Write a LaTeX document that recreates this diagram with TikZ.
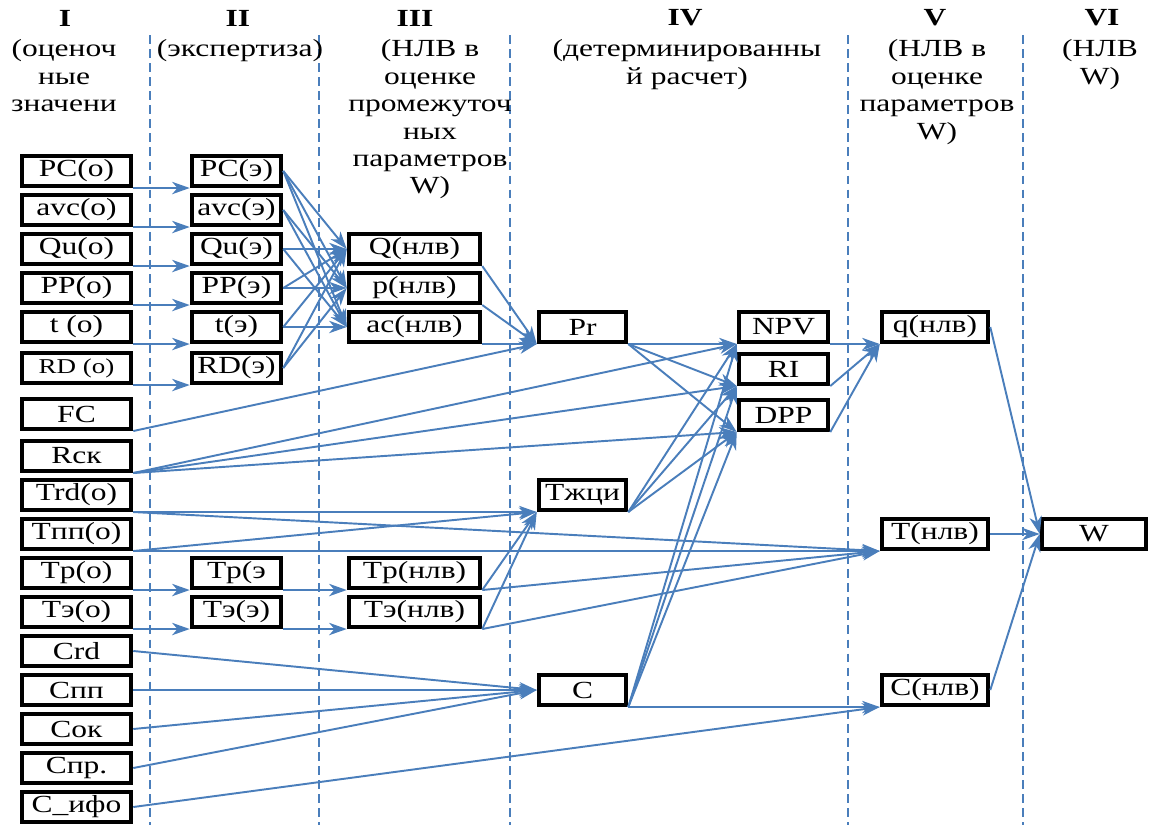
\documentclass[tikz,border=0pt]{standalone}
\usepackage{fontspec}
\setmainfont[FakeStretch=1.28]{Liberation Serif}
\usetikzlibrary{arrows.meta}
\definecolor{lineblue}{RGB}{74,126,187}

\tikzstyle{boxNode} = [rectangle, draw=black, fill=white, line width=2.3pt, minimum height=0.6cm, inner sep=1pt, text centered, font=\fontsize{14}{16}\selectfont]
\tikzstyle{oNode} = [boxNode, minimum width=2.19cm]
\tikzstyle{eNode} = [boxNode, minimum width=1.79cm]
\tikzstyle{nNode} = [boxNode, minimum width=2.63cm]
\tikzstyle{dNode} = [boxNode, minimum width=1.75cm]
\tikzstyle{rNode} = [boxNode, minimum width=1.79cm]
\tikzstyle{vNode} = [boxNode, minimum width=2.13cm]
\tikzstyle{wNode} = [boxNode, minimum width=2.09cm]
\tikzstyle{numNode} = [inner sep=0pt, font=\fontsize{14}{16}\selectfont\bfseries]
\tikzstyle{headNode} = [align=center, anchor=north, inner sep=0pt, font=\fontsize{14}{15.6}\selectfont]
\tikzstyle{arrow} = [draw=lineblue, line width=1.1pt, -{Stealth[length=10pt,width=7pt,inset=3pt]}]
\tikzstyle{sepLine} = [draw=lineblue, line width=1.6pt, dash pattern=on 5pt off 3pt]

\begin{document}
\begin{tikzpicture}[node distance=0.78cm]
    \useasboundingbox (0,0) rectangle (23.02,-16.5);

    % column borders
    \foreach \x in {3.0,6.38,10.2,16.96,20.46}
        \draw [sepLine] (\x,-0.7) -- (\x,-16.5);

    % headers
    \node (num1)[numNode] at (1.3,-0.36) {I};
    \node (num2)[numNode] at (4.76,-0.36) {II};
    \node (num3)[numNode] at (8.3,-0.36) {III};
    \node (num4)[numNode] at (13.7,-0.36) {IV};
    \node (num5)[numNode] at (18.7,-0.36) {V};
    \node (num6)[numNode] at (22.04,-0.36) {VI};
    \node (head1)[headNode] at (1.28,-0.79) {(оценоч\\ные\\значени};
    \node (head2)[headNode] at (4.8,-0.79) {(экспертиза)};
    \node (head3)[headNode] at (8.6,-0.79) {(НЛВ в\\оценке\\промежуточ\\ных\\параметров\\W)};
    \node (head4)[headNode] at (13.74,-0.79) {(детерминированны\\й расчет)};
    \node (head5)[headNode] at (18.74,-0.79) {(НЛВ в\\оценке\\параметров\\W)};
    \node (head6)[headNode] at (22.0,-0.79) {(НЛВ\\W)};

    % I
    \node (PCo)[oNode] at (1.53,-3.42) {PC(о)};
    \node (avco)[oNode, below of=PCo] {avc(о)};
    \node (Quo)[oNode, below of=avco] {Qu(о)};
    \node (PPo)[oNode, below of=Quo] {PP(о)};
    \node (tOc)[oNode, below of=PPo] {t (о)};
    \node (RDo)[oNode, below of=tOc, yshift=-0.04cm, font=\fontsize{12}{14}\selectfont] {RD (о)};
    \node (FC)[oNode, below of=RDo, yshift=-0.14cm] {FC};
    \node (Rsk)[oNode, below of=FC, yshift=-0.06cm] {Rск};
    \node (Trdo)[oNode, below of=Rsk] {Trd(о)};
    \node (Tppo)[oNode, below of=Trdo] {Tпп(о)};
    \node (Tpo)[oNode, below of=Tppo] {Tр(о)};
    \node (Teo)[oNode, below of=Tpo] {Tэ(о)};
    \node (Crd)[oNode, below of=Teo] {Crd};
    \node (Cpp)[oNode, below of=Crd] {Спп};
    \node (Cok)[oNode, below of=Cpp] {Сок};
    \node (Cpr)[oNode, below of=Cok] {Спр.};
    \node (Cifo)[oNode, below of=Cpr] {С\_ифо};

    % II
    \node (PCe)[eNode, right of=PCo, xshift=2.42cm] {PC(э)};
    \node (avce)[eNode, right of=avco, xshift=2.42cm] {avc(э)};
    \node (Que)[eNode, right of=Quo, xshift=2.42cm] {Qu(э)};
    \node (PPe)[eNode, right of=PPo, xshift=2.42cm] {PP(э)};
    \node (tEx)[eNode, right of=tOc, xshift=2.42cm] {t(э)};
    \node (RDe)[eNode, right of=RDo, xshift=2.42cm] {RD(э)};
    \node (Tpe)[eNode, right of=Tpo, xshift=2.42cm] {Tр(э};
    \node (Tee)[eNode, right of=Teo, xshift=2.42cm] {Tэ(э)};

    % III
    \node (Qn)[nNode, right of=Que, xshift=2.78cm] {Q(нлв)};
    \node (pn)[nNode, right of=PPe, xshift=2.78cm] {p(нлв)};
    \node (acn)[nNode, right of=tEx, xshift=2.78cm] {ac(нлв)};
    \node (Tpn)[nNode, right of=Tpe, xshift=2.78cm] {Tр(нлв)};
    \node (Ten)[nNode, right of=Tee, xshift=2.78cm] {Tэ(нлв)};

    % IV
    \node (Pr)[dNode, right of=acn, xshift=2.58cm] {Pr};
    \node (Tzhci)[dNode, right of=Trdo, xshift=9.34cm] {Tжци};
    \node (Cd)[dNode, right of=Cpp, xshift=9.34cm] {С};
    \node (NPV)[rNode, right of=Pr, xshift=3.24cm] {NPV};
    \node (RI)[rNode, below of=NPV, yshift=-0.06cm] {RI};
    \node (DPP)[rNode, below of=RI, yshift=-0.14cm] {DPP};

    % V, VI
    \node (qn)[vNode, right of=NPV, xshift=2.25cm] {q(нлв)};
    \node (Tn)[vNode, right of=Tppo, xshift=16.39cm] {T(нлв)};
    \node (Cn)[vNode, right of=Cd, xshift=6.27cm] {С(нлв)};
    \node (W)[wNode, right of=Tn, xshift=2.4cm] {W};

    % I -> II -> III
    \draw [arrow] (PCo.south east) -- (PCe.south west);
    \draw [arrow] (avco.south east) -- (avce.south west);
    \draw [arrow] (Quo.south east) -- (Que.south west);
    \draw [arrow] (PPo.south east) -- (PPe.south west);
    \draw [arrow] (tOc.south east) -- (tEx.south west);
    \draw [arrow] (RDo.south east) -- (RDe.south west);
    \draw [arrow] (Tpo.south east) -- (Tpe.south west);
    \draw [arrow] (Teo.south east) -- (Tee.south west);
    \draw [arrow] (Tpe.south east) -- (Tpn.south west);
    \draw [arrow] (Tee.south east) -- (Ten.south west);

    \draw [arrow] (PCe.east) -- (Qn.west);
    \draw [arrow] (PCe.east) -- (pn.west);
    \draw [arrow] (PCe.east) -- (acn.west);
    \draw [arrow] (avce.east) -- (pn.west);
    \draw [arrow] (avce.east) -- (acn.west);
    \draw [arrow] (Que.east) -- (Qn.west);
    \draw [arrow] (Que.east) -- (acn.west);
    \draw [arrow] (PPe.east) -- (pn.west);
    \draw [arrow] (PPe.east) -- (Qn.west);
    \draw [arrow] (tEx.east) -- (acn.west);
    \draw [arrow] (tEx.east) -- (Qn.west);
    \draw [arrow] (RDe.east) -- (Qn.west);
    \draw [arrow] (RDe.east) -- (pn.west);

    % -> IV
    \draw [arrow] (Qn.south east) -- (Pr.south west);
    \draw [arrow] (pn.south east) -- (Pr.south west);
    \draw [arrow] (acn.south east) -- (Pr.south west);
    \draw [arrow] (FC.south east) -- (Pr.south west);
    \draw [arrow] (Trdo.south east) -- (Tzhci.south west);
    \draw [arrow] (Tppo.south east) -- (Tzhci.south west);
    \draw [arrow] (Tpn.south east) -- (Tzhci.south west);
    \draw [arrow] (Ten.south east) -- (Tzhci.south west);
    \draw [arrow] (Crd.east) -- (Cd.west);
    \draw [arrow] (Cpp.east) -- (Cd.west);
    \draw [arrow] (Cok.east) -- (Cd.west);
    \draw [arrow] (Cpr.east) -- (Cd.west);

    \draw [arrow] (Pr.south east) -- (NPV.south west);
    \draw [arrow] (Pr.south east) -- (RI.south west);
    \draw [arrow] (Pr.south east) -- (DPP.south west);
    \draw [arrow] (Rsk.south east) -- (NPV.south west);
    \draw [arrow] (Rsk.south east) -- (RI.south west);
    \draw [arrow] (Rsk.south east) -- (DPP.south west);
    \draw [arrow] (Tzhci.south east) -- (NPV.south west);
    \draw [arrow] (Tzhci.south east) -- (RI.south west);
    \draw [arrow] (Tzhci.south east) -- (DPP.south west);
    \draw [arrow] (Cd.south east) -- (NPV.south west);
    \draw [arrow] (Cd.south east) -- (RI.south west);
    \draw [arrow] (Cd.south east) -- (DPP.south west);

    % -> V -> VI
    \draw [arrow] (NPV.south east) -- (qn.south west);
    \draw [arrow] (RI.south east) -- (qn.south west);
    \draw [arrow] (DPP.south east) -- (qn.south west);
    \draw [arrow] (Trdo.south east) -- (Tn.south west);
    \draw [arrow] (Tppo.south east) -- (Tn.south west);
    \draw [arrow] (Tpn.south east) -- (Tn.south west);
    \draw [arrow] (Ten.south east) -- (Tn.south west);
    \draw [arrow] (Cd.south east) -- (Cn.south west);
    \draw [arrow] (Cifo.east) -- (Cn.south west);
    \draw [arrow] (qn.east) -- (W.west);
    \draw [arrow] (Tn.east) -- (W.west);
    \draw [arrow] (Cn.east) -- (W.west);

\end{tikzpicture}
\end{document}
